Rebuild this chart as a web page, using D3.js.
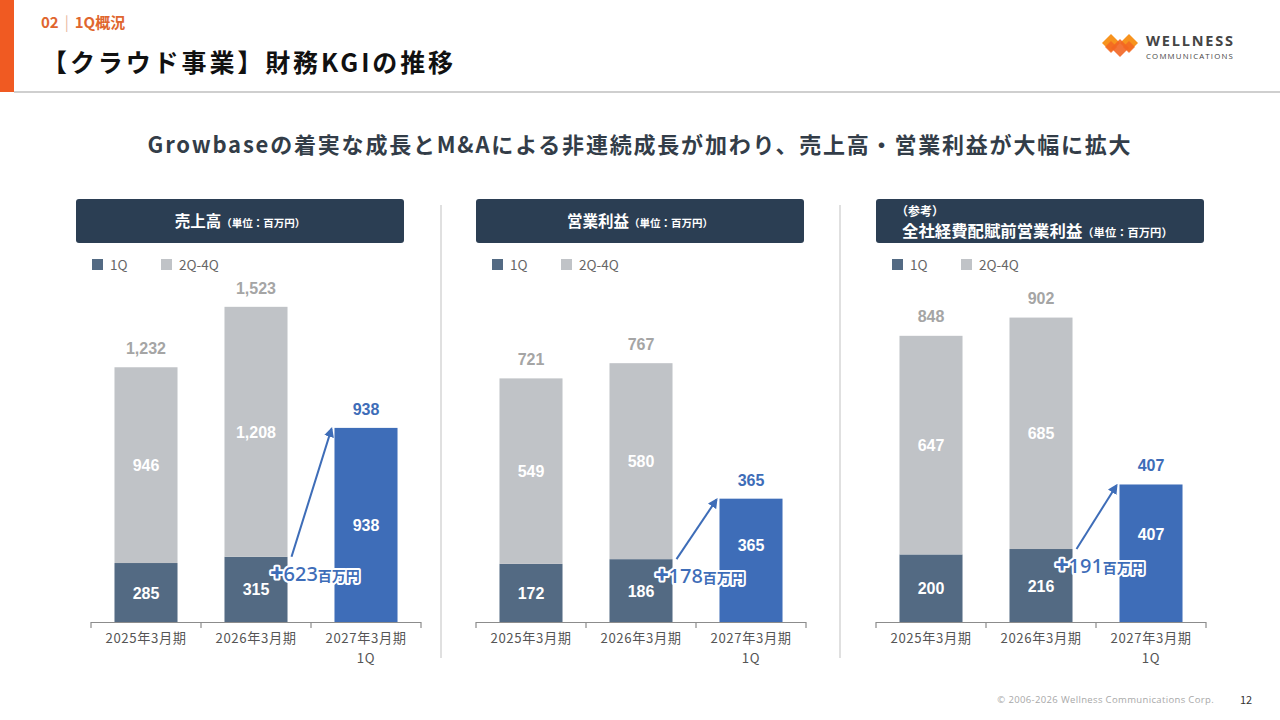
<!DOCTYPE html>
<html><head><meta charset="utf-8">
<script src="https://cdn.jsdelivr.net/npm/d3@7"></script>
<style>
html,body{margin:0;padding:0;background:#fff;}
svg{display:block;}
</style></head>
<body>
<svg id="c" width="1280" height="720"></svg>
<script>
// ---------- data ----------
const categories = ["2025年3月期", "2026年3月期", "2027年3月期\n1Q"];
const legendLabels = ["1Q", "2Q-4Q"];

const salesQ1 = [285, 315, 938];
const salesRest = [946, 1208, 0];
const salesTotal = [1232, 1523, 938];

const opQ1 = [172, 186, 365];
const opRest = [549, 580, 0];
const opTotal = [721, 767, 365];

const preQ1 = [200, 216, 407];
const preRest = [647, 685, 0];
const preTotal = [848, 902, 407];

const deltas = [623, 178, 191];

const panelTitles = [
  {sub: null, main: "売上高", unit: "（単位：百万円）"},
  {sub: null, main: "営業利益", unit: "（単位：百万円）"},
  {sub: "（参考）", main: "全社経費配賦前営業利益", unit: "（単位：百万円）"}
];

// ---------- styles ----------
const C = {
  q1: "#536a83", rest: "#c0c3c7", cur: "#3e6db8", curText: "#3e6db8",
  total: "#a5a5a5", header: "#2b3e53", axis: "#8c8c8c", label: "#555",
  orange: "#f05a22"
};
const JP = "'Noto Sans CJK JP','Noto Sans',sans-serif";
const NUM = "'Liberation Sans',Arial,sans-serif";

const svg = d3.select("#c");

// ---------- page frame ----------
svg.append("rect").attr("x",0).attr("y",0).attr("width",14).attr("height",92).attr("fill",C.orange);
svg.append("line").attr("x1",14).attr("x2",1280).attr("y1",92).attr("y2",92).attr("stroke","#cfcfcf").attr("stroke-width",2);

const crumb = svg.append("text").attr("x",41).attr("y",28).attr("font-family",JP).attr("font-weight",700).attr("font-size",15).attr("fill","#e0662e");
crumb.append("tspan").text("02");
crumb.append("tspan").attr("dx",6).attr("fill","#e8b9a0").attr("font-weight",400).text("|");
crumb.append("tspan").attr("dx",6).text("1Q概況");

svg.append("text").attr("x",42).attr("y",72).attr("font-family",JP).attr("font-weight",700)
  .attr("font-size",25).attr("fill","#111").attr("letter-spacing",2.9).text("【クラウド事業】財務KGIの推移");

// logo
const logo = svg.append("g").attr("transform","translate(1102,34)");
const dia = (cx,cy,s,fill,op)=>logo.append("path")
  .attr("d",`M${cx},${cy-s}L${cx+s},${cy}L${cx},${cy+s}L${cx-s},${cy}Z`).attr("fill",fill).attr("opacity",op);
dia(9,9,9,"#f7931e",1); dia(27,9,9,"#f7931e",1);
dia(18,14,9,"#f26522",0.9); dia(9,13,6,"#f26522",0.8); dia(27,13,6,"#f26522",0.8);
svg.append("text").attr("x",1146).attr("y",46).attr("font-family","'Open Sans',sans-serif").attr("font-weight",700)
  .attr("font-size",14.5).attr("fill","#454545").attr("letter-spacing",1.8).text("WELLNESS");
svg.append("text").attr("x",1146).attr("y",59).attr("font-family","'Open Sans',sans-serif")
  .attr("font-size",7.8).attr("fill","#454545").attr("letter-spacing",1.2).text("COMMUNICATIONS");

// subtitle
svg.append("text").attr("x",640).attr("y",153).attr("text-anchor","middle").attr("font-family",JP)
  .attr("font-weight",700).attr("font-size",22).attr("fill","#333d48").attr("letter-spacing",1.8)
  .text("Growbaseの着実な成長とM&Aによる非連続成長が加わり、売上高・営業利益が大幅に拡大");

// dividers
[441, 840].forEach(x=>svg.append("line").attr("x1",x).attr("x2",x).attr("y1",205).attr("y2",658)
  .attr("stroke","#d6d6d6").attr("stroke-width",1.5));

// footer
svg.append("text").attr("x",1214).attr("y",703).attr("text-anchor","end").attr("font-family","'Open Sans',sans-serif")
  .attr("font-size",9.5).attr("fill","#a8a8a8").attr("letter-spacing",0.35).text("© 2006-2026 Wellness Communications Corp.");
svg.append("text").attr("x",1240).attr("y",704).attr("font-family",JP).attr("font-size",11).attr("fill","#333").text("12");

// defs arrow
svg.append("defs").append("marker").attr("id","ah").attr("viewBox","0 0 10 10").attr("refX",8).attr("refY",5)
  .attr("markerWidth",5).attr("markerHeight",5).attr("orient","auto")
  .append("path").attr("d","M0,0L10,5L0,10Z").attr("fill",C.cur);

// ---------- panels ----------
const panels = [
  {q1: salesQ1, rest: salesRest, total: salesTotal, delta: deltas[0], box:[76,404], axis:[91,421], ymax:1556, curShift:0},
  {q1: opQ1, rest: opRest, total: opTotal, delta: deltas[1], box:[476,804], axis:[476,806], ymax:953, curShift:-15},
  {q1: preQ1, rest: preRest, total: preTotal, delta: deltas[2], box:[876,1204], axis:[876,1206], ymax:953, curShift:-19}
];
const fmt = d3.format(",");

panels.forEach((p,i)=>{
  const g = svg.append("g");
  const t = panelTitles[i];
  // header box
  g.append("rect").attr("x",p.box[0]).attr("y",199).attr("width",p.box[1]-p.box[0]).attr("height",44)
    .attr("rx",3).attr("fill",C.header);
  if(!t.sub){
    const tt = g.append("text").attr("x",(p.box[0]+p.box[1])/2).attr("y",227).attr("text-anchor","middle")
      .attr("font-family",JP).attr("font-weight",700).attr("fill","#fff");
    tt.append("tspan").attr("font-size",15.5).text(t.main);
    tt.append("tspan").attr("font-size",10.5).text(t.unit);
  } else {
    g.append("text").attr("x",p.box[0]+20).attr("y",216).attr("font-family",JP).attr("font-weight",700)
      .attr("font-size",12).attr("fill","#fff").text(t.sub);
    const tt = g.append("text").attr("x",p.box[0]+26).attr("y",237)
      .attr("font-family",JP).attr("font-weight",700).attr("fill","#fff");
    tt.append("tspan").attr("font-size",16.4).text(t.main);
    tt.append("tspan").attr("font-size",11.3).text(t.unit);
  }
  // legend
  const lx = p.box[0]+16;
  [[C.q1,legendLabels[0],0],[C.rest,legendLabels[1],69]].forEach(([c,l,dx])=>{
    g.append("rect").attr("x",lx+dx).attr("y",259).attr("width",11).attr("height",11).attr("fill",c);
    g.append("text").attr("x",lx+dx+18).attr("y",269.5).attr("font-family",JP).attr("font-size",13.5)
      .attr("fill","#666").text(l);
  });

  const x = d3.scaleBand().domain(categories).range(p.axis).paddingInner(0.427).paddingOuter(0.2135);
  const y = d3.scaleLinear().domain([0,p.ymax]).range([622,300]);
  const bw = x.bandwidth();

  categories.forEach((cat,j)=>{
    const x0 = x(cat);
    const isCur = j===2;
    // 1Q segment
    g.append("rect").attr("x",x0).attr("y",y(p.q1[j])).attr("width",bw).attr("height",y(0)-y(p.q1[j]))
      .attr("fill",isCur?C.cur:C.q1);
    g.append("text").attr("x",x0+bw/2).attr("y",(y(0)+y(p.q1[j]))/2+6+(isCur?p.curShift:0)).attr("text-anchor","middle")
      .attr("font-family",NUM).attr("font-weight",700).attr("font-size",16).attr("fill","#fff").text(fmt(p.q1[j]));
    if(p.rest[j]>0){
      const top = p.q1[j]+p.rest[j];
      g.append("rect").attr("x",x0).attr("y",y(top)).attr("width",bw).attr("height",y(p.q1[j])-y(top))
        .attr("fill",C.rest);
      g.append("text").attr("x",x0+bw/2).attr("y",(y(top)+y(p.q1[j]))/2+6).attr("text-anchor","middle")
        .attr("font-family",NUM).attr("font-weight",700).attr("font-size",16).attr("fill","#fff").text(fmt(p.rest[j]));
    }
    g.append("text").attr("x",x0+bw/2).attr("y",y(p.total[j])-13).attr("text-anchor","middle")
      .attr("font-family",NUM).attr("font-weight",700).attr("font-size",16)
      .attr("fill",isCur?C.curText:C.total).text(fmt(p.total[j]));
    // category labels
    const lines = cat.split("\n");
    lines.forEach((ln,k)=>g.append("text").attr("x",x0+bw/2).attr("y",643+k*20).attr("text-anchor","middle")
      .attr("font-family",JP).attr("font-size",13.2).attr("letter-spacing",0.6).attr("fill",C.label).text(ln));
  });

  // axis line & ticks
  g.append("line").attr("x1",p.axis[0]).attr("x2",p.axis[1]).attr("y1",y(0)+0.5).attr("y2",y(0)+0.5)
    .attr("stroke",C.axis).attr("stroke-width",1.2);
  const step = x.step();
  d3.range(categories.length+1).forEach(k=>{
    const tx = p.axis[0]+k*step;
    g.append("line").attr("x1",tx).attr("x2",tx).attr("y1",y(0)).attr("y2",y(0)+6).attr("stroke",C.axis).attr("stroke-width",1.2);
  });

  // arrow
  const sx = x(categories[1])+bw+4, sy = y(p.q1[1]);
  const ex = x(categories[2])-3, ey = y(p.total[2])+1;
  g.append("line").attr("x1",sx).attr("y1",sy).attr("x2",ex).attr("y2",ey)
    .attr("stroke",C.cur).attr("stroke-width",2).attr("marker-end","url(#ah)");

  // delta label
  const cx = x(categories[2]) - (step-bw)/2 + 4;
  const lab = g.append("text").attr("x",cx).attr("y",y(p.q1[1])+24).attr("text-anchor","middle")
    .attr("font-family",JP).attr("font-weight",700)
    .attr("stroke","#fff").attr("stroke-width",4).attr("stroke-linejoin","round").attr("paint-order","stroke")
    .attr("fill",C.cur);
  lab.append("tspan").attr("font-size",22).attr("font-weight",900).text("+");
  lab.append("tspan").attr("font-size",20).attr("font-family","'Noto Sans',sans-serif").attr("font-weight",500).text(p.delta);
  lab.append("tspan").attr("font-size",14).text("百万円");
});
</script>
</body></html>
